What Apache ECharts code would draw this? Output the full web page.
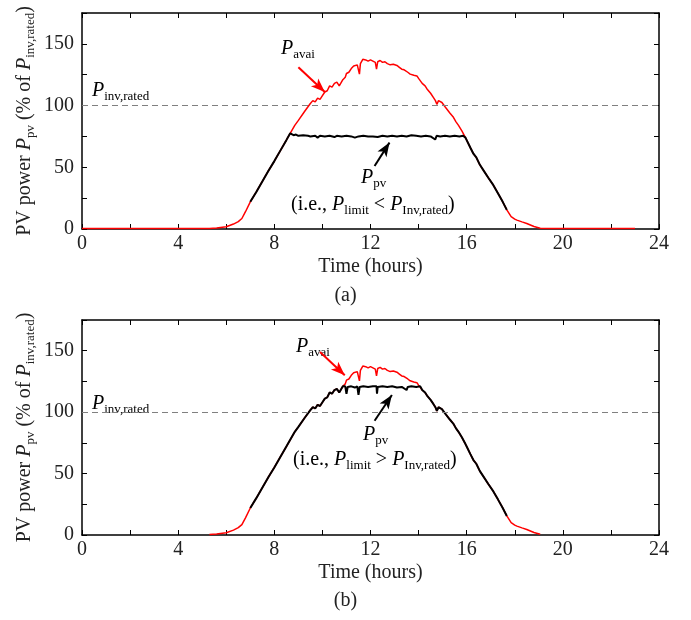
<!DOCTYPE html>
<html>
<head>
<meta charset="utf-8">
<script src="https://cdn.jsdelivr.net/npm/echarts@6/dist/echarts.min.js"></script>
<style>
  html, body { margin: 0; padding: 0; background: #fff; }
  #chart { width: 691px; height: 620px; }
</style>
</head>
<body>
<div id="chart"></div>
<script>
// available PV power, % of inverter rating, [hour, value]
const pAvai = [
  [0, 0.5], [5.3, 0.5], [5.6, 0.8], [6.0, 1.8], [6.3, 4], [6.5, 6], [6.65, 8.5], [6.8, 14],
  [7.0, 22], [7.25, 30], [7.5, 38.5], [7.75, 47], [8.0, 55], [8.25, 63.5], [8.5, 72], [8.66, 77.5],
  [8.85, 84], [9.0, 88], [9.25, 95], [9.49, 101.5], [9.6, 104], [9.7, 103], [9.8, 106], [9.9, 105],
  [10.0, 108], [10.05, 107.5], [10.1, 111], [10.2, 112], [10.3, 116], [10.4, 115], [10.5, 118],
  [10.6, 119], [10.7, 116], [10.75, 117], [10.85, 121], [10.95, 123], [11.0, 126], [11.1, 127],
  [11.2, 130], [11.3, 132], [11.45, 133], [11.5, 133.5], [11.54, 125.5], [11.58, 134], [11.68, 137.5],
  [11.8, 137], [11.9, 136], [12.0, 137], [12.1, 136], [12.2, 135], [12.25, 129.5], [12.3, 135.5],
  [12.4, 136.5], [12.5, 135], [12.6, 135.5], [12.7, 134], [12.82, 133], [12.95, 133.5], [13.1, 132.5],
  [13.2, 131], [13.3, 129.5], [13.4, 129], [13.55, 127], [13.65, 125.5], [13.8, 124.5], [13.93, 124],
  [14.0, 122], [14.07, 121.5], [14.15, 118], [14.27, 116], [14.35, 113.5], [14.41, 112], [14.5, 110],
  [14.62, 106.5], [14.7, 104], [14.76, 101], [14.83, 104], [14.9, 103.5], [14.97, 102.5], [15.1, 99],
  [15.18, 97], [15.3, 94], [15.45, 90.5], [15.55, 87], [15.66, 84], [15.8, 79.5], [15.95, 74],
  [16.0, 72], [16.15, 66], [16.28, 61], [16.4, 58], [16.55, 52], [16.7, 47.5], [16.9, 41.5],
  [17.11, 35.5], [17.3, 29], [17.5, 22], [17.67, 15.5], [17.85, 10], [18.0, 8], [18.09, 7.2],
  [18.3, 5.8], [18.5, 4.5], [18.8, 2], [19.06, 0.6], [19.5, 0.5], [23.0, 0.5]
];

// limited output plateau, case (a)
const flatA = [
  [8.7, 77], [8.8, 76], [8.9, 76.5], [9.0, 75.5], [9.2, 76], [9.4, 75.5], [9.5, 75], [9.7, 75.5],
  [9.8, 74], [9.9, 75.5], [10.1, 75], [10.3, 75.5], [10.5, 74.5], [10.6, 75.5], [10.8, 75], [11.0, 75.5],
  [11.2, 75], [11.35, 74], [11.5, 75], [11.7, 75.5], [11.9, 75], [12.1, 75], [12.3, 74.5], [12.5, 75.5],
  [12.7, 75], [12.9, 75.5], [13.1, 75], [13.3, 75.5], [13.5, 75], [13.7, 76], [13.9, 75.5], [14.1, 75],
  [14.3, 75.5], [14.5, 75], [14.69, 72.5], [14.75, 75.5], [14.9, 75], [15.1, 75.5], [15.3, 75],
  [15.5, 75.5], [15.7, 75], [15.85, 75.5], [15.95, 74]
];

// inverter-rated plateau, case (b)
const flatB = [
  [10.95, 121], [11.0, 115], [11.05, 120.5], [11.2, 121], [11.35, 120], [11.45, 121], [11.5, 114],
  [11.55, 120.5], [11.7, 121], [11.9, 120.5], [12.1, 121], [12.25, 121], [12.27, 115], [12.3, 120.5],
  [12.5, 121], [12.7, 120.5], [12.9, 121], [13.1, 120], [13.3, 120.5], [13.5, 118], [13.55, 120.5],
  [13.7, 121], [13.9, 120.5], [14.07, 121]
];

// hour windows: Pavai drawn, and where Ppv follows Pavai
const avaiA = [0, 23];
const avaiB = [5.3, 19.06];
const trackA = [[7.0, 8.66], [16.0, 17.67]];
const trackB = [[7.0, 10.9], [14.15, 17.67]];

const xTicks = [0, 4, 8, 12, 16, 20, 24];
const yTicks = [0, 50, 100, 150];
const ratedLevel = 100;

function seg(range) {
  return pAvai.filter(p => p[0] >= range[0] && p[0] <= range[1]);
}
const pvA = seg(trackA[0]).concat(flatA, seg(trackA[1]));
const pvB = seg(trackB[0]).concat(flatB, seg(trackB[1]));

const FONT = '"Liberation Serif", "Times New Roman", serif';
const TXT = '#222';
// subscript: top-aligned token pushed down by its top padding
const rich = {
  n: { fontFamily: FONT, fontSize: 20, lineHeight: 24, verticalAlign: 'top', color: TXT },
  p: { fontFamily: FONT, fontSize: 20, lineHeight: 24, verticalAlign: 'top', fontStyle: 'italic', color: TXT },
  s: { fontFamily: FONT, fontSize: 13, lineHeight: 24, verticalAlign: 'top', padding: [9, 0, 0, 0], color: TXT }
};

const grids = [
  { left: 82, top: 13, width: 577, height: 216 },
  { left: 82, top: 320, width: 577, height: 215 }
];

function xAxes(gi) {
  const base = {
    gridIndex: gi, type: 'value', min: 0, max: 24, interval: 2,
    axisLine: { onZero: false, lineStyle: { color: '#000', width: 1.5 } },
    axisTick: { inside: true, length: 5, lineStyle: { color: '#000', width: 1 } },
    splitLine: { show: false }
  };
  return [
    Object.assign({}, base, {
      position: 'bottom',
      axisLabel: {
        margin: 5, fontFamily: FONT, fontSize: 20, color: TXT,
        formatter: v => (xTicks.indexOf(v) >= 0 ? String(v) : '')
      },
      name: 'Time (hours)', nameLocation: 'middle', nameGap: 28,
      nameTextStyle: { fontFamily: FONT, fontSize: 20, color: TXT }
    }),
    Object.assign({}, base, { position: 'top', axisLabel: { show: false } })
  ];
}

function yAxes(gi) {
  const base = {
    gridIndex: gi, type: 'value', min: 0, max: 175, interval: 25,
    axisLine: { show: true, onZero: false, lineStyle: { color: '#000', width: 1.5 } },
    axisTick: { show: true, inside: true, length: 5, lineStyle: { color: '#000', width: 1 } },
    splitLine: { show: false }
  };
  return [
    Object.assign({}, base, {
      position: 'left',
      axisLabel: {
        margin: 8, fontFamily: FONT, fontSize: 20, color: TXT,
        formatter: v => (yTicks.indexOf(v) >= 0 ? String(v) : '')
      },
      name: '{n|PV power }{p|P}{s|pv}{n| (% of }{p|P}{s|inv,rated}{n|)}',
      nameLocation: 'middle', nameGap: 43, nameMoveOverlap: false,
      nameTextStyle: { rich: rich }
    }),
    Object.assign({}, base, { position: 'right', axisLabel: { show: false } })
  ];
}

function arrow(from, to, color) {
  return {
    silent: true,
    symbol: ['none', 'arrow'],
    symbolSize: [8, 14],
    label: { show: false },
    lineStyle: { color: color, type: 'solid', width: 2 },
    data: [[{ coord: from }, { coord: to }]]
  };
}

function panelSeries(gi, avai, pv, redArrow, blackArrow) {
  return [
    {
      type: 'line', xAxisIndex: gi * 2, yAxisIndex: gi * 2, data: avai,
      showSymbol: false, animation: false,
      lineStyle: { color: '#ff0000', width: 1.5 },
      markLine: {
        silent: true, symbol: 'none', label: { show: false },
        lineStyle: { color: '#808080', type: [6, 4], width: 1.2 },
        data: [{ yAxis: ratedLevel }]
      }
    },
    {
      type: 'line', xAxisIndex: gi * 2, yAxisIndex: gi * 2, data: pv,
      showSymbol: false, animation: false,
      lineStyle: { color: '#000', width: 2 },
      markLine: arrow(blackArrow[0], blackArrow[1], '#000')
    },
    {
      type: 'line', xAxisIndex: gi * 2, yAxisIndex: gi * 2, data: [],
      showSymbol: false, animation: false,
      markLine: arrow(redArrow[0], redArrow[1], '#ff0000')
    }
  ];
}

function label(left, top, text) {
  return { type: 'text', left: left, top: top, silent: true, style: { text: text, rich: rich } };
}

const option = {
  animation: false,
  backgroundColor: '#fff',
  grid: grids,
  xAxis: xAxes(0).concat(xAxes(1)),
  yAxis: yAxes(0).concat(yAxes(1)),
  series: panelSeries(0, seg(avaiA), pvA, [[9.0, 131], [10.1, 111]], [[12.17, 51], [12.79, 70]])
    .concat(panelSeries(1, seg(avaiB), pvB, [[9.9, 149], [10.93, 130]], [[12.17, 93], [12.89, 114]])),
  graphic: [
    label(281, 39, '{p|P}{s|avai}'),
    label(92, 81, '{p|P}{s|inv,rated}'),
    label(361, 168, '{p|P}{s|pv}'),
    label(291, 195, '{n|(i.e., }{p|P}{s|limit}{n| < }{p|P}{s|Inv,rated}{n|)}'),
    { type: 'text', left: 'center', top: 286, style: { text: '(a)', font: '20px ' + FONT, fill: TXT } },
    label(296, 337, '{p|P}{s|avai}'),
    label(92, 394, '{p|P}{s|inv,rated}'),
    label(363, 425, '{p|P}{s|pv}'),
    label(293, 450, '{n|(i.e., }{p|P}{s|limit}{n| > }{p|P}{s|Inv,rated}{n|)}'),
    { type: 'text', left: 'center', top: 591, style: { text: '(b)', font: '20px ' + FONT, fill: TXT } }
  ]
};

const chart = echarts.init(document.getElementById('chart'));
chart.setOption(option);
</script>
</body>
</html>
